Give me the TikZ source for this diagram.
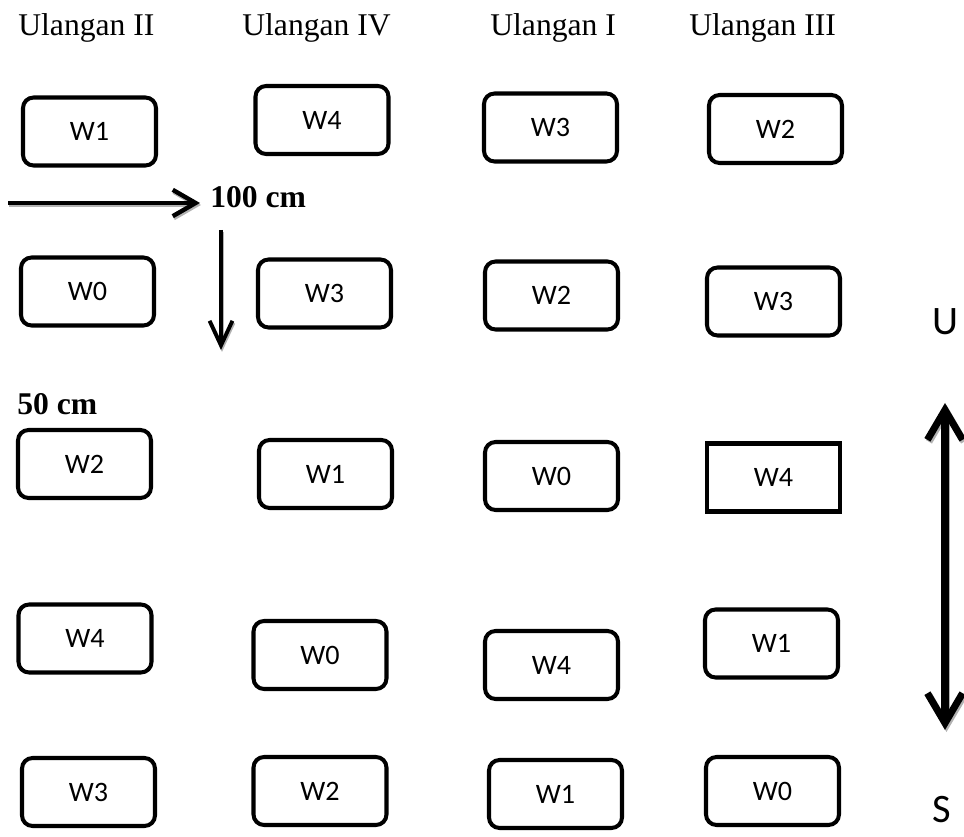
\documentclass[tikz,border=0pt]{standalone}
\usepackage{fontspec}
\setmainfont{Liberation Serif}
\newfontfamily\plotfont{Carlito}
\usetikzlibrary{arrows.meta}

\begin{document}
\begin{tikzpicture}[
  x=0.02cm, y=-0.02cm,
  plot/.style={draw, line width=2.3pt, rounded corners=6pt, minimum width=2.66cm, minimum height=1.36cm, inner sep=0pt, font=\plotfont\fontsize{16}{16}\selectfont},
  plotsq/.style={plot, rounded corners=0pt},
  head/.style={anchor=base west, inner sep=0pt, font=\fontsize{18}{18}\selectfont},
  dist/.style={anchor=base west, inner sep=0pt, font=\bfseries\fontsize{18}{18}\selectfont},
  compass/.style={inner sep=0pt, font=\plotfont\fontsize{23}{23}\selectfont},
  ghost/.style={draw=gray!60},
  hbar/.style={-{Straight Barb[length=13pt,width=15pt]}, line width=2.5pt},
  vbar/.style={-{Straight Barb[length=14pt,width=13pt]}, line width=2.2pt},
  nsbar/.style={{Straight Barb[length=17pt,width=20pt]}-{Straight Barb[length=17pt,width=20pt]}, line width=4pt}
]
  \useasboundingbox (0,0) rectangle (964,837);

  % replications
  \node[head] (rep2) at (18,36) {Ulangan II};
  \node[head] (rep4) at (242,36) {Ulangan IV};
  \node[head] (rep1) at (490,36) {Ulangan I};
  \node[head] (rep3) at (689,36) {Ulangan III};

  % plots, row by row
  \node[plot] (a1) at (89.5,131.5) {W1};
  \node[plot] (a2) at (322,120) {W4};
  \node[plot] (a3) at (550.5,127.5) {W3};
  \node[plot] (a4) at (775.5,129) {W2};

  \node[plot] (b1) at (87.5,291.5) {W0};
  \node[plot] (b2) at (324.5,293.5) {W3};
  \node[plot] (b3) at (551.5,295.5) {W2};
  \node[plot] (b4) at (773.5,301.5) {W3};

  \node[plot] (c1) at (84.5,464) {W2};
  \node[plot] (c2) at (325.5,474) {W1};
  \node[plot] (c3) at (551.5,476) {W0};
  \node[plotsq] (c4) at (773.5,477.5) {W4};

  \node[plot] (d1) at (85,638.5) {W4};
  \node[plot] (d2) at (320,655) {W0};
  \node[plot] (d3) at (551.5,665) {W4};
  \node[plot] (d4) at (771.5,643.5) {W1};

  \node[plot] (e1) at (88.5,792) {W3};
  \node[plot] (e2) at (320,791) {W2};
  \node[plot] (e3) at (555.5,794) {W1};
  \node[plot] (e4) at (772.5,791) {W0};

  % spacing
  \node[dist] (gapx) at (210,208) {100 cm};
  \node[dist] (gapy) at (17,415) {50 cm};
  \coordinate (h0) at (8,203);
  \coordinate (h1) at (200,203);
  \coordinate (v0) at (221,230);
  \coordinate (v1) at (221,350);
  \draw[ghost, hbar] ([shift={(1,2)}]h0) -- ([shift={(1,2)}]h1);
  \draw[hbar] (h0) -- (h1);
  \draw[ghost, vbar] ([shift={(1,2)}]v0) -- ([shift={(1,2)}]v1);
  \draw[vbar] (v0) -- (v1);

  % north-south
  \node[compass] (north) at (945,322) {U};
  \node[compass] (south) at (942,810) {S};
  \coordinate (ns0) at (945,403);
  \coordinate (ns1) at (945,730);
  \draw[ghost, nsbar] ([shift={(1.5,2)}]ns0) -- ([shift={(1.5,2)}]ns1);
  \draw[nsbar] (ns0) -- (ns1);
\end{tikzpicture}
\end{document}
